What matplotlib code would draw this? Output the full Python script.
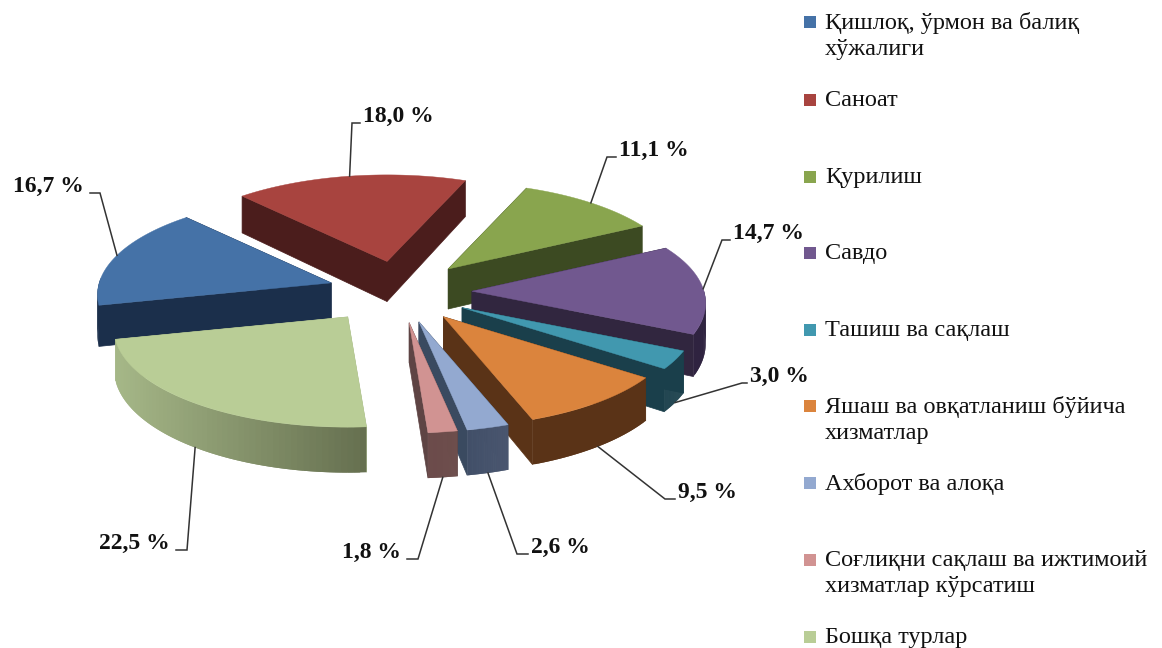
# -*- encoding: utf-8 -*-
"""
Exploded 3D pie chart with a legend on the right.
"""
import numpy as np
import matplotlib.pyplot as plt
from matplotlib.colors import to_rgb

# Chart data.
categories = ['Қишлоқ, ўрмон ва балиқ\nхўжалиги', 'Саноат', 'Қурилиш', 'Савдо', 'Ташиш ва сақлаш',
              'Яшаш ва овқатланиш бўйича\nхизматлар', 'Ахборот ва алоқа',
              'Соғлиқни сақлаш ва ижтимоий\nхизматлар кўрсатиш', 'Бошқа турлар']
values = [16.7, 18.0, 11.1, 14.7, 3.0, 9.5, 2.6, 1.8, 22.5]

# Slice colours: top face, cut face, outer rim from its left end to its right end.
top_colors = ['#4572A7', '#A8443F', '#89A54E', '#71588F', '#4198AF', '#DB843D', '#93A9D0', '#D19392', '#B9CD96']
cut_colors = ['#1B2F4B', '#4B1D1C', '#3C4A22', '#31263F', '#1A3F4B', '#5A3317', '#3A4A60', '#5E4444', '#A6B888']
rim_left = ['#1B2F4B', '#4B1D1C', '#3C4A22', '#2F2340', '#1A3F4B', '#5A3317', '#414F68', '#6B4A4A', '#A6B888']
rim_right = ['#1B2F4B', '#4B1D1C', '#3C4A22', '#2F2340', '#1A3F4B', '#5A3317', '#4A566F', '#6E4F4D', '#667050']

# Pie geometry in pixels of the figure.
cx, cy = 400, 292
rx, ry = 232, 97
persp = 0.12
depth = 40
explode_x = [72, 72, 72, 72, 72, 72, 72, 72, 88]
explode_y = 31
start_angle = 257

# Leader elbow and end for each slice, in pixels.
label_elbow = [(100, 193), (352, 123), (607, 157), (722, 240), (742, 383),
               (665, 499), (517, 554), (418, 559), (187, 550)]
label_end = [(90, 193), (360, 123), (616, 157), (730, 240), (747, 383),
             (675, 499), (528, 554), (407, 559), (176, 550)]
label_ha = ['right', 'left', 'left', 'left', 'left', 'left', 'left', 'right', 'right']

legend_y = [22, 100, 177, 253, 330, 406, 483, 560, 637]


def project(ax_x, ax_y, ang, r=1.0, down=0.0):
    """Screen position of a point of a slice, ang in degrees clockwise from the back."""
    x = r * np.sin(np.radians(ang))
    y = -r * np.cos(np.radians(ang))
    s = 1 / (1 - persp * y)
    return ax_x + x * rx * s, ax_y + y * ry * s + down * s


def mix(c1, c2, t):
    return tuple((1 - t) * a + t * b for a, b in zip(to_rgb(c1), to_rgb(c2)))


fig = plt.figure(figsize=(11.62, 6.48), dpi=100)
ax = fig.add_axes([0, 0, 1, 1])
ax.set_xlim(0, 1162)
ax.set_ylim(648, 0)
ax.axis('off')

# Slice angles from the values.
total = sum(values)
sweeps = [v / total * 360 for v in values]
starts = start_angle + np.concatenate([[0], np.cumsum(sweeps)[:-1]])
mids = starts + np.array(sweeps) / 2

# Draw back to front.
order = np.argsort(-np.cos(np.radians(mids)))
anchors = {}
for rank, i in enumerate(order):
    z = 2 + rank * 0.01
    a0, a1 = starts[i], starts[i] + sweeps[i]
    ox = cx + explode_x[i] * np.sin(np.radians(mids[i]))
    oy = cy - explode_y * np.cos(np.radians(mids[i]))
    arc = np.linspace(a0, a1, 60)
    px, py = project(ox, oy, arc)

    # Cut faces, further one first.
    faces = []
    for a in (a0, a1):
        ex, ey = project(ox, oy, a)
        ex2, ey2 = project(ox, oy, a, down=depth)
        faces.append(([ox, ex, ex2, ox], [oy, ey, ey2, oy + depth]))
    faces.sort(key=lambda f: np.mean(f[1]))
    for fx, fy in faces:
        ax.fill(fx, fy, color=cut_colors[i], lw=0.5, zorder=z)

    # Outer rim, only the part that faces the viewer. Pieces overlap so no seams show.
    for k in range(len(arc) - 2):
        if -np.cos(np.radians(arc[k])) < -0.03:
            continue
        bx, by = project(ox, oy, arc[k:k + 3], down=depth)
        # the rim colour runs with the screen position along the slice
        t = (px[k] - px.min()) / max(px.max() - px.min(), 1)
        ax.fill(np.r_[px[k:k + 3], bx[::-1]], np.r_[py[k:k + 3], by[::-1]],
                color=mix(rim_left[i], rim_right[i], t), lw=0, zorder=z)

    # Top face.
    ax.fill(np.r_[ox, px], np.r_[oy, py], color=top_colors[i], lw=0.3, zorder=z + 0.001)

    # Where the leader line leaves the slice.
    down = depth if np.cos(np.radians(mids[i])) < -0.1 else 0
    anchors[i] = project(ox, oy, mids[i], down=down)

# Leader lines and value labels.
for i, v in enumerate(values):
    sx, sy = anchors[i]
    ax.plot([sx, label_elbow[i][0], label_end[i][0]], [sy, label_elbow[i][1], label_end[i][1]],
            color='#333333', lw=1.1, zorder=5, solid_joinstyle='miter')
    gap = 3 if label_ha[i] == 'left' else -6
    txt = f'{v:.1f} %'.replace('.', ',')
    ax.text(label_end[i][0] + gap, label_end[i][1] - 7, txt, ha=label_ha[i], va='center',
            family='Liberation Serif', weight='bold', fontsize=17, color='#111111', zorder=6)

# Legend.
for i, name in enumerate(categories):
    ax.scatter([810], [legend_y[i]], marker='s', s=63, color=top_colors[i], linewidths=0, zorder=5)
    ax.text(825, legend_y[i] - 10, name, ha='left', va='top', family='Liberation Serif', fontsize=17.5,
            color='#111111', linespacing=1.3, zorder=6)

fig.savefig('out.png', dpi=100)
